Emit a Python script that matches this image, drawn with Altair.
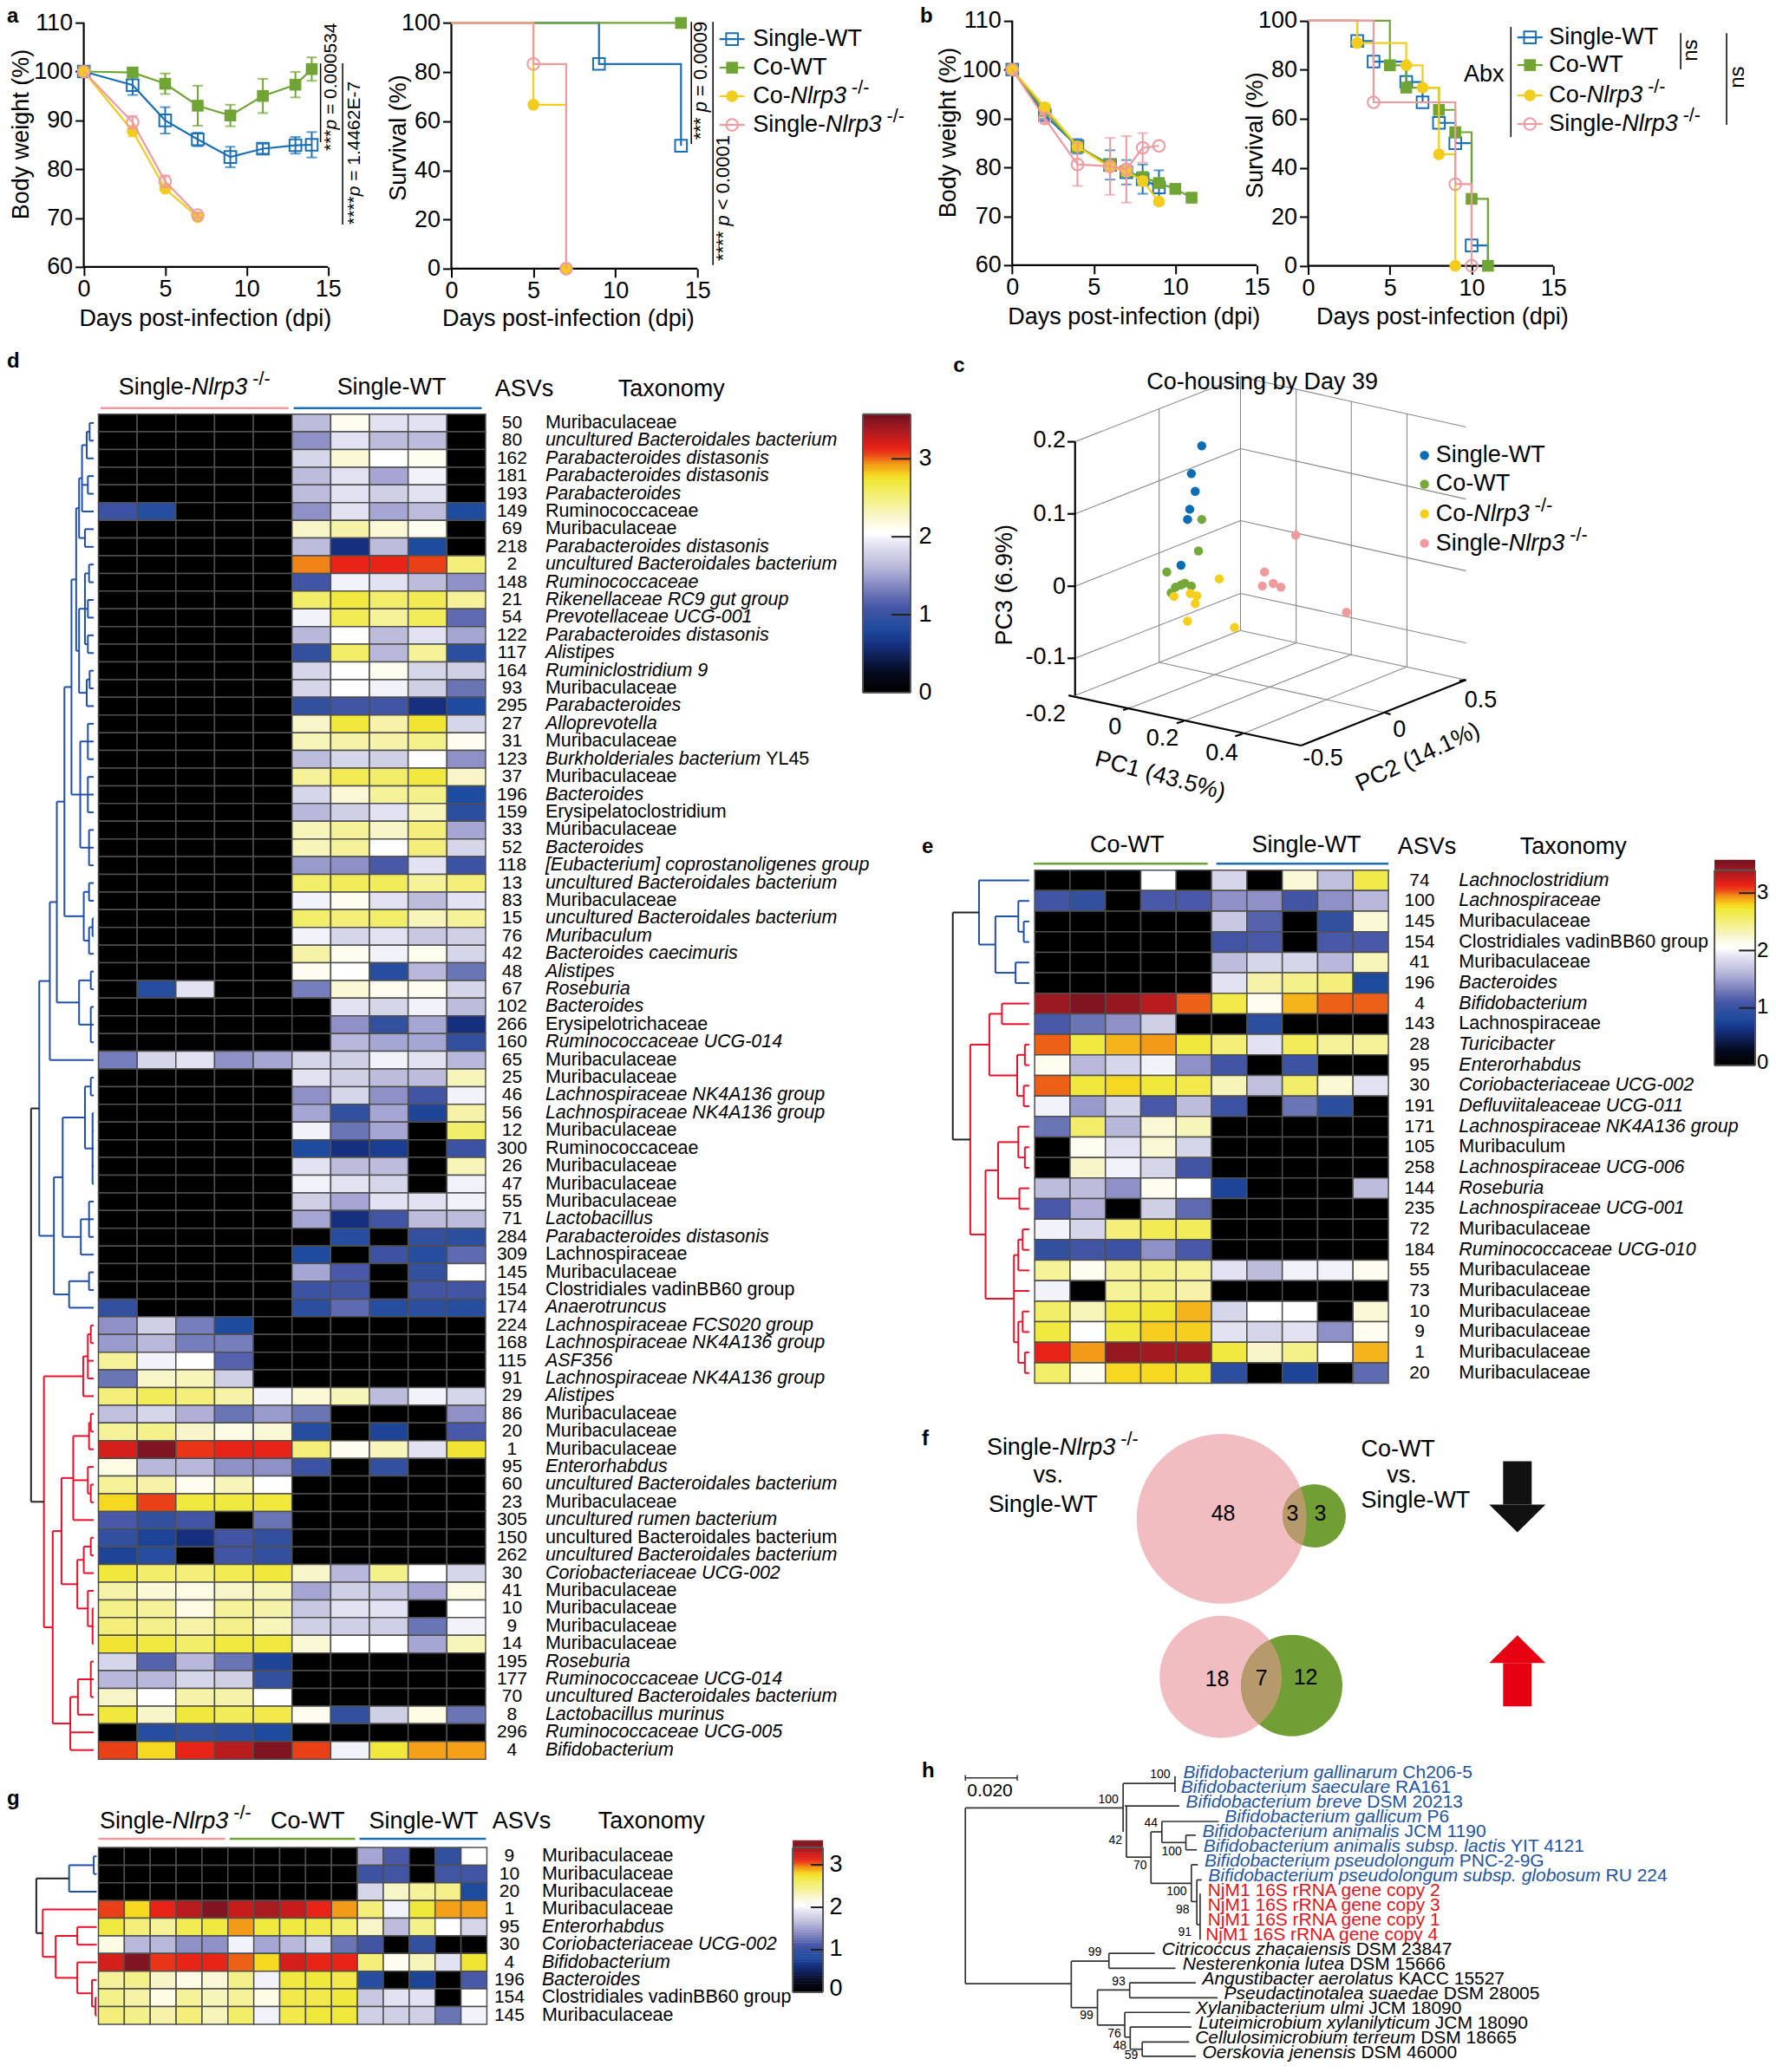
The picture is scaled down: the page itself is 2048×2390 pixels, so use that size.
import altair as alt
import numpy as np
import pandas as pd

FONT = "Liberation Sans"
BLUE, GREEN, YELLOW, PINK = "#1a6fb5", "#70a535", "#f2cd1e", "#ee9a9f"
DBLUE, DRED = "#1f4fa8", "#e8102a"
BOTTOM = 2376
RIGHT = 2040

AFM = [278,278,355,556,556,889,667,191,333,333,389,584,278,333,278,278,556,556,556,556,556,556,556,556,556,556,
       278,278,584,584,584,556,1015,667,667,722,722,667,611,778,722,278,500,667,556,833,722,778,667,778,722,667,
       611,722,667,944,667,667,611,278,278,278,469,556,333,556,556,500,556,556,278,556,556,222,222,500,222,833,
       556,556,556,556,333,500,278,556,500,722,500,500,500,334,260,334,584]


def tw(s, size):
    return sum(AFM[ord(c) - 32] if 32 <= ord(c) < 127 else 556 for c in s) * size / 1000


STOPS = [0, .25, .6, .8, .95, 1.1, 1.25, 1.4, 1.5, 1.62, 1.75, 1.88, 1.96, 2.02, 2.1, 2.25, 2.4, 2.55, 2.7, 2.78,
         2.85, 2.92, 3.0, 3.05, 3.12, 3.25, 3.35, 3.5, 3.57]
COLS = ['#000000', '#060a20', '#16307f', '#1f4b9e', '#33509f', '#4a58a8', '#6a75b5', '#8f90c6', '#a5a6d3', '#bcbcdc',
        '#cfcfe6', '#e2e2f2', '#f2f2fb', '#ffffff', '#fefdf0', '#f8f6c8', '#f5f29a', '#f3ee6a', '#f0e83a', '#f6d820',
        '#f5b41c', '#f39a18', '#ec6018', '#ea4018', '#e82418', '#c81c1c', '#a81c20', '#801420', '#701018']
HS = alt.Scale(domain=STOPS, range=COLS, interpolate="rgb")


class P:
    def __init__(self, L, T, R, B, xm=(0, 0, 1, 1), ym=(0, 0, 1, 1)):
        self.L, self.T, self.R, self.B, self.xm, self.ym = L, T, R, B, xm, ym
        self.sx = alt.Scale(domain=[self.dx(L), self.dx(R)], nice=False, zero=False)
        self.sy = alt.Scale(domain=[self.dy(B), self.dy(T)], nice=False, zero=False)
        self.layers, self.under, self.over, self.texts = [], [], [], []
        self.xaxis = None
        self.yaxis = None

    def dx(self, p):
        a, b, c, d = self.xm
        return a + (p - b) * (c - a) / (d - b)

    def dy(self, p):
        a, b, c, d = self.ym
        return a + (p - b) * (c - a) / (d - b)

    def X(self, f="x"):
        if self.xaxis is not None:
            return alt.X(f, type="quantitative", scale=self.sx)
        return alt.X(f, type="quantitative", scale=self.sx, axis=None)

    def Y(self, f="y"):
        if self.yaxis is not None:
            return alt.Y(f, type="quantitative", scale=self.sy)
        return alt.Y(f, type="quantitative", scale=self.sy, axis=None)

    def seg(self, x1, y1, x2, y2, color="black", w=2, top=False):
        (self.over if top else self.under).append(
            dict(x=self.dx(x1), y=self.dy(y1), x2=self.dx(x2), y2=self.dy(y2), c=color, w=w))

    def t(self, x, y, s, size=21, align="left", angle=0, italic=False, bold=False, color="black"):
        self.texts.append(dict(x=self.dx(x), y=self.dy(y), t=s, size=size, align=align, angle=angle,
                               italic=italic, bold=bold, color=color))

    def rich(self, x, y, parts, size=27, align="left", angle=0, color="black"):
        total = 0
        for s, st in parts:
            total += tw(s, size * (.8 if st == "s" else 1))
        off = {"left": 0, "center": -total / 2, "right": -total}[align]
        for s, st in parts:
            sz = size * (.8 if st == "s" else 1)
            up = size * .33 if st == "s" else 0
            lead = len(s) - len(s.lstrip())
            off += tw(" " * lead, sz)
            body = s.strip()
            if angle == 270:
                self.t(x, y - off, body, sz, "left", 270, st == "i", False, color)
            else:
                self.t(x + off, y - up, body, sz, "left", 0, st == "i", False, color)
            off += tw(s.lstrip(), sz)

    def axes(self, xv, yv, x0, y0, x1, y1):
        common = dict(domain=False, grid=False, tickSize=10, tickWidth=2, tickColor="black", labelFontSize=27,
                      labelFont=FONT, labelColor="black", labelPadding=3, title=None, format="d",
                      labelOverlap=False, labelFlush=False)
        self.xaxis = alt.Axis(values=xv, offset=-(self.B - y0), **common)
        self.yaxis = alt.Axis(values=yv, offset=-(x0 - self.L), **common)
        self.seg(x0, y0, x1, y0, "black", 2.2)
        self.seg(x0, y0, x0, y1, "black", 2.2)

    def points(self, xs, ys, shape, filled, color, size=185, sw=2, px=False):
        if px:
            xs = [self.dx(v) for v in xs]
            ys = [self.dy(v) for v in ys]
        self.layers.append(alt.Chart(pd.DataFrame({"x": xs, "y": ys})).mark_point(
            shape=shape, filled=filled, size=size, color=color, opacity=1, strokeWidth=sw
        ).encode(x=self.X(), y=self.Y()))

    def line(self, xs, ys, color, w=2.2):
        df = pd.DataFrame({"x": xs, "y": ys, "o": range(len(xs))})
        self.layers.append(alt.Chart(df).mark_line(color=color, strokeWidth=w).encode(
            x=self.X(), y=self.Y(), order=alt.Order("o:Q")))

    def errs(self, xs, ys, es, color):
        df = pd.DataFrame({"x": xs, "lo": np.array(ys) - np.array(es), "hi": np.array(ys) + np.array(es)})
        df = df[np.array(es) > 0]
        self.layers.append(alt.Chart(df).mark_rule(color=color, strokeWidth=2).encode(
            x=self.X(), y=self.Y("lo"), y2=alt.Y2("hi")))
        for f in ("lo", "hi"):
            self.layers.append(alt.Chart(df).mark_tick(orient="horizontal", size=12, thickness=2, color=color).encode(
                x=self.X(), y=self.Y(f)))

    def heat(self, M):
        rec = []
        for r, row in enumerate(M):
            for c, v in enumerate(row):
                rec.append(dict(c=c, c1=c + 1, r=r, r1=r + 1, v=v))
        self.layers.append(alt.Chart(pd.DataFrame(rec)).mark_rect(stroke="#4f4f4f", strokeWidth=1.5).encode(
            x=self.X("c"), x2=alt.X2("c1"), y=self.Y("r"), y2=alt.Y2("r1"),
            color=alt.Color("v:Q", scale=HS, legend=None)))

    def colorbar(self, x1, x2, y0, y3, top, tick_frac=.4):
        levels = list(np.arange(0, 3.57, .03))
        per = (y3 - y0) / 3
        df = pd.DataFrame({"v": levels,
                           "x": self.dx(x1), "x2": self.dx(x2),
                           "y": [self.dy(y0 + per * v) for v in levels],
                           "y2": [self.dy(y0 + per * (v + .04)) for v in levels]})
        self.layers.append(alt.Chart(df).mark_rect(strokeWidth=0).encode(
            x=self.X(), x2=alt.X2("x2"), y=self.Y(), y2=alt.Y2("y2"),
            color=alt.Color("v:Q", scale=HS, legend=None)))
        for a, b, c, d in [(x1, top, x2, top), (x2, top, x2, y0), (x2, y0, x1, y0), (x1, y0, x1, top)]:
            self.seg(a, b, c, d, "#555555", 2, True)
        for v in (1, 2, 3):
            yy = y0 + per * v
            self.seg(x2 - (x2 - x1) * tick_frac, yy, x2, yy, "#222222", 2, True)

    def _segl(self, segs):
        out = []
        if not segs:
            return out
        df = pd.DataFrame(segs)
        for (c, w), g in df.groupby(["c", "w"], sort=False):
            out.append(alt.Chart(g[["x", "y", "x2", "y2"]]).mark_rule(color=c, strokeWidth=w).encode(
                x=self.X(), y=self.Y(), x2=alt.X2("x2"), y2=alt.Y2("y2")))
        return out

    def finish(self):
        bx = alt.X("x", type="quantitative", scale=self.sx, axis=self.xaxis)
        by = alt.Y("y", type="quantitative", scale=self.sy, axis=self.yaxis)
        base = alt.Chart(pd.DataFrame({"x": [self.dx((self.L + self.R) / 2)], "y": [self.dy((self.T + self.B) / 2)]})
                         ).mark_point(opacity=0).encode(x=bx, y=by)
        txt = []
        if self.texts:
            df = pd.DataFrame(self.texts)
            for k, g in df.groupby(["size", "align", "angle", "italic", "bold", "color"], sort=False):
                txt.append(alt.Chart(g[["x", "y", "t"]]).mark_text(
                    font=FONT, fontSize=float(k[0]), align=k[1], baseline="middle", angle=float(k[2]),
                    fontStyle="italic" if k[3] else "normal", fontWeight="bold" if k[4] else "normal", color=k[5]
                ).encode(x=self.X(), y=self.Y(), text=alt.Text("t:N")))
        return alt.layer(base, *self._segl(self.under), *self.layers, *self._segl(self.over), *txt).properties(
            width=self.R - self.L, height=self.B - self.T)


STYLE = {"wt": (BLUE, "square", False), "co": (GREEN, "square", True),
         "ko": (YELLOW, "circle", True), "sk": (PINK, "circle", False)}
NL = [("Nlrp3", "i"), (" -/-", "s")]
LEG = [("wt", [("Single-WT", "")]), ("co", [("Co-WT", "")]), ("ko", [("Co-", "")] + NL),
       ("sk", [("Single-", "")] + NL)]


def legend(p, xm, xt, ys, half=14.5):
    for (k, parts), y in zip(LEG, ys):
        col, sh, fl = STYLE[k]
        p.seg(xm - half, y, xm + half, y, col, 2.2)
        p.points([xm], [y], sh, fl, col, 185, 2, px=True)
        p.rich(xt, y, parts, 27)


def weight_series(p, days, vals, errs, k):
    col, sh, fl = STYLE[k]
    p.errs(days, vals, errs, col)
    p.line(days, vals, col)
    p.points(days, vals, sh, fl, col)


def surv_series(p, xs, ys, mx, my, k):
    col, sh, fl = STYLE[k]
    p.line(xs, ys, col)
    p.points(mx, my, sh, fl, col)


# ---- panel a data
a_wt_d = [0, 3, 5, 7, 9, 11, 13, 14]
a_wt_v = [100, 97.2, 90, 86.1, 82.5, 84.2, 84.9, 85]
a_wt_e = [0, 2, 2.7, 1.4, 2.1, 1, 1.7, 2.6]
a_co_d = [0, 3, 5, 7, 9, 11, 13, 14]
a_co_v = [100, 99.8, 97.5, 93, 91, 95, 97.3, 100.5]
a_co_e = [0, .5, 2.1, 4.1, 2.2, 3.5, 2.6, 2.4]
a_ko_d = [0, 3, 5, 7]
a_ko_v = [100, 87.8, 76, 70.2]
a_ko_e = [0, 1.1, .5, .5]
a_sk_d = [0, 3, 5, 7]
a_sk_v = [100, 89.6, 77.5, 70.6]
a_sk_e = [0, 1.3, 1.2, .5]

A1 = P(8, 8, 465, 400, (0, 96.7, 15, 378.6), (60, 307, 110, 25))
A1.axes([0, 5, 10, 15], [60, 70, 80, 90, 100, 110], 96.7, 307, 378.6, 25)
weight_series(A1, a_wt_d, a_wt_v, a_wt_e, "wt")
weight_series(A1, a_co_d, a_co_v, a_co_e, "co")
weight_series(A1, a_ko_d, a_ko_v, a_ko_e, "ko")
weight_series(A1, a_sk_d, a_sk_v, a_sk_e, "sk")
A1.t(8, 18, "a", 24, bold=True)
A1.t(25, 154, "Body weight (%)", 27, "center", 270)
A1.t(237, 367, "Days post-infection (dpi)", 27, "center")
A1.seg(370, 72, 370, 163, "black", 1.5)
A1.seg(395.5, 72, 395.5, 258, "black", 1.5)
A1.rich(382, 173, [("***", ""), ("p", "i"), (" = 0.000534", "")], 21, angle=270)
A1.rich(409, 258, [("****", ""), ("p", "i"), (" = 1.4462E-7", "")], 21, angle=270)

A2 = P(465, 8, 1060, 400, (0, 521, 15, 805), (0, 309, 100, 25.3))
A2.axes([0, 5, 10, 15], [0, 20, 40, 60, 80, 100], 521, 309, 805, 25.3)
surv_series(A2, [0, 9, 9, 14, 14], [100, 100, 83.3, 83.3, 50], [9, 14], [83.3, 50], "wt")
surv_series(A2, [0, 14], [100, 100], [14], [100], "co")
surv_series(A2, [0, 5, 5, 7, 7], [100, 100, 66.7, 66.7, 0], [5, 7], [66.7, 0], "ko")
surv_series(A2, [0, 5, 5, 7, 7], [100, 100, 83.3, 83.3, 0], [5, 7], [83.3, 0], "sk")
A2.t(460, 158, "Survival (%)", 27, "center", 270)
A2.t(656, 367, "Days post-infection (dpi)", 27, "center")
legend(A2, 845, 869, [44, 77, 110, 143])
A2.seg(798, 24, 798, 165, "black", 1.5)
A2.seg(823, 24, 823, 305, "black", 1.5)
A2.rich(809, 160, [("*** ", ""), ("p", "i"), (" = 0.0009", "")], 22, angle=270)
A2.rich(835, 300, [("**** ", ""), ("p", "i"), (" < 0.0001", "")], 22, angle=270)

# ---- panel b data
b_wt_d = [0, 2, 4, 6, 7, 8, 9]
b_wt_v = [100, 90.7, 84.3, 80.5, 79, 77.6, 75.9]
b_wt_e = [0, .8, 1.5, 3, 2.5, 3, 3.5]
b_co_d = [0, 2, 4, 6, 7, 8, 9, 10, 11]
b_co_v = [100, 91.5, 84.2, 80.6, 79.2, 78, 76.8, 75.6, 73.8]
b_co_e = [0, .6, 1, 1, 1, 1, .8, 0, 0]
b_ko_d = [0, 2, 4, 6, 7, 8, 9]
b_ko_v = [100, 92.3, 84.3, 80, 79.2, 77.2, 73]
b_ko_e = [0, .6, .8, .8, .8, .8, 0]
b_sk_d = [0, 2, 4, 6, 7, 8, 9]
b_sk_v = [100, 90, 80.6, 80.2, 79.6, 84, 84.4]
b_sk_e = [0, 1, 4.4, 5.8, 6.8, 3, 0]

B1 = P(1060, 8, 1480, 400, (0, 1168.4, 15, 1450.7), (60, 305, 110, 22.7))
B1.axes([0, 5, 10, 15], [60, 70, 80, 90, 100, 110], 1168.4, 305, 1450.7, 22.7)
weight_series(B1, b_wt_d, b_wt_v, b_wt_e, "wt")
weight_series(B1, b_co_d, b_co_v, b_co_e, "co")
weight_series(B1, b_ko_d, b_ko_v, b_ko_e, "ko")
weight_series(B1, b_sk_d, b_sk_v, b_sk_e, "sk")
B1.t(1062, 18, "b", 24, bold=True)
B1.t(1095, 152, "Body weight (%)", 27, "center", 270)
B1.t(1309, 365, "Days post-infection (dpi)", 27, "center")

B2 = P(1480, 8, RIGHT, 400, (0, 1510, 15, 1793), (0, 305.7, 100, 22.7))
B2.axes([0, 5, 10, 15], [0, 20, 40, 60, 80, 100], 1510, 305.7, 1793, 22.7)
surv_series(B2, [0, 3, 3, 4, 4, 6, 6, 7, 7, 8, 8, 9, 9, 10, 10, 11, 11],
            [100, 100, 91.7, 91.7, 83.3, 83.3, 75, 75, 66.7, 66.7, 58.3, 58.3, 50, 50, 8.3, 8.3, 0],
            [3, 4, 6, 7, 8, 9, 10], [91.7, 83.3, 75, 66.7, 58.3, 50, 8.3], "wt")
surv_series(B2, [0, 5, 5, 6, 6, 8, 8, 9, 9, 10, 10, 11, 11],
            [100, 100, 81.8, 81.8, 72.7, 72.7, 63.6, 63.6, 54.5, 54.5, 27.3, 27.3, 0],
            [5, 6, 8, 9, 10, 11], [81.8, 72.7, 63.6, 54.5, 27.3, 0], "co")
surv_series(B2, [0, 3, 3, 6, 6, 7, 7, 8, 8, 9, 9], [100, 100, 90.9, 90.9, 81.8, 81.8, 72.7, 72.7, 45.5, 45.5, 0],
            [3, 6, 7, 8, 9], [90.9, 81.8, 72.7, 45.5, 0], "ko")
surv_series(B2, [0, 4, 4, 9, 9, 10, 10], [100, 100, 66.7, 66.7, 33.3, 33.3, 0], [4, 9, 10], [66.7, 33.3, 0], "sk")
B2.t(1449, 155, "Survival (%)", 27, "center", 270)
B2.t(1665, 365, "Days post-infection (dpi)", 27, "center")
legend(B2, 1766, 1788, [42, 74, 109, 142])
B2.t(1713, 85, "Abx", 27, "center")
B2.seg(1744, 30, 1744, 157, "black", 1.5)
B2.seg(1940, 37, 1940, 79, "black", 1.5)
B2.seg(1993, 37, 1993, 143, "black", 1.5)
B2.t(1952, 57, "ns", 24, "center", 270)
B2.t(2006, 88, "ns", 24, "center", 270)


# ---- dendrograms
def N(x, *k):
    return (x, k)


def draw(p, tree, row, conv, leaf_x, color, w=2):
    x, kids = tree
    ys = []
    for k in kids:
        if isinstance(k, int):
            ky = row(k)
            kx = leaf_x
        else:
            kx = k[0]
            ky = draw(p, k, row, conv, leaf_x, color, w)
        p.seg(conv(x), ky, conv(kx), ky, color, w)
        ys.append(ky)
    p.seg(conv(x), ys[0], conv(x), ys[-1], color, w)
    return (ys[0] + ys[-1]) / 2


def root(p, x, top, bot, row, conv, leaf_x):
    yt = draw(p, top, row, conv, leaf_x, DBLUE)
    yb = draw(p, bot, row, conv, leaf_x, DRED)
    p.seg(conv(x), yt, conv(top[0]), yt, "#222222", 2)
    p.seg(conv(x), yb, conv(bot[0]), yb, "#222222", 2)
    p.seg(conv(x), yt, conv(x), yb, "#222222", 2)


def tax(p, x, y, name, size=21.5):
    if name.startswith("~"):
        p.t(x, y, name[1:], size)
    elif "|" in name:
        a, b = name.split("|")
        p.rich(x, y, [(a, "i"), (b, "")], size)
    else:
        p.t(x, y, name, size, italic=True)


# ---- panel d data
Z = [0, 0, 0, 0, 0]
d_asv = [50, 80, 162, 181, 193, 149, 69, 218, 2, 148, 21, 54, 122, 117, 164, 93, 295, 27, 31, 123, 37, 196, 159, 33, 52,
         118, 13, 83, 15, 76, 42, 48, 67, 102, 266, 160, 65, 25, 46, 56, 12, 300, 26, 47, 55, 71, 284, 309, 145, 154,
         174, 224, 168, 115, 91, 29, 86, 20, 1, 95, 60, 23, 305, 150, 262, 30, 41, 10, 9, 14, 195, 177, 70, 8, 296, 4]
MU = "~Muribaculaceae"
UB = "uncultured Bacteroidales bacterium"
PD = "Parabacteroides distasonis"
NK = "Lachnospiraceae NK4A136 group"
d_tax = [MU, UB, PD, PD, "Parabacteroides", "~Ruminococcaceae", MU, PD, UB, "Ruminococcaceae",
         "Rikenellaceae RC9 gut group", "Prevotellaceae UCG-001", PD, "Alistipes", "Ruminiclostridium 9", MU,
         "Parabacteroides", "Alloprevotella", MU, "Burkholderiales bacterium| YL45", MU, "Bacteroides",
         "~Erysipelatoclostridium", MU, "Bacteroides", "[Eubacterium] coprostanoligenes group", UB, MU, UB,
         "Muribaculum", "Bacteroides caecimuris", "Alistipes", "Roseburia", "Bacteroides", "~Erysipelotrichaceae",
         "Ruminococcaceae UCG-014", MU, MU, NK, NK, MU, "~Ruminococcaceae", MU, MU, MU, "Lactobacillus", PD,
         "~Lachnospiraceae", MU, "~Clostridiales vadinBB60 group", "Anaerotruncus", "Lachnospiraceae FCS020 group", NK,
         "ASF356", NK, "Alistipes", MU, MU, MU, "Enterorhabdus", UB, MU, "uncultured rumen bacterium",
         "~uncultured Bacteroidales bacterium", UB, "Coriobacteriaceae UCG-002", MU, MU, MU, MU, "Roseburia",
         "Ruminococcaceae UCG-014", UB, "Lactobacillus murinus", "Ruminococcaceae UCG-005", "Bifidobacterium"]
d_vals = [
    Z + [1.62, 2.1, 1.88, 1.88, 0], Z + [1.4, 1.88, 1.62, 1.62, 0], Z + [1.8, 2.2, 2.02, 2.1, 0],
    Z + [1.62, 1.88, 1.5, 1.96, 0], Z + [1.62, 1.88, 1.75, 1.88, 0],
    [1.0, .85, 0, 0, 0, 1.4, 1.88, 1.5, 1.62, .8], Z + [2.25, 2.35, 2.2, 2.1, 0], Z + [1.62, .6, 1.62, .8, 0],
    Z + [2.95, 3.12, 3.12, 3.05, 2.5], Z + [1.05, 1.96, 1.88, 1.62, 1.4], Z + [2.55, 2.68, 2.55, 2.62, 2.4],
    Z + [1.96, 2.62, 2.4, 2.6, 1.2], Z + [1.6, 2.02, 1.62, 1.88, 1.5], Z + [.95, 2.55, 1.6, 2.4, .9],
    Z + [1.8, 2.02, 2.1, 1.8, 1.75], Z + [1.8, 2.02, 1.96, 1.75, 1.25], Z + [.95, 1.05, 1.05, .6, .8],
    Z + [2.25, 2.7, 2.35, 2.72, 1.8], Z + [2.3, 2.35, 2.35, 2.45, 2.1], Z + [1.62, 1.8, 1.75, 2.02, 1.4],
    Z + [2.4, 2.62, 2.55, 2.68, 2.25], Z + [1.8, 2.2, 2.4, 2.45, .8], Z + [1.6, 1.75, 1.88, 2.3, .9],
    Z + [2.3, 2.4, 2.25, 2.5, 1.5], Z + [2.3, 2.4, 2.02, 2.5, 1.8], Z + [1.45, 1.4, 1.1, 1.88, 1.0],
    Z + [2.55, 2.6, 2.6, 2.4, 2.5], Z + [1.96, 2.1, 1.88, 1.62, 1.88], Z + [2.55, 2.5, 2.55, 2.3, 2.4],
    Z + [1.96, 1.8, 1.88, 1.7, 1.75], Z + [2.35, 2.1, 1.96, 2.1, 1.8], Z + [2.1, 2.02, .85, 1.6, 1.25],
    [0, .85, 1.88, 0, 0, 1.3, 2.2, 2.1, 2.1, 1.8], Z + [0, 1.88, 1.8, 1.96, 1.62], Z + [0, 1.4, .95, 1.5, .6],
    Z + [0, 1.6, 1.5, 1.5, .95], [1.3, 1.8, 1.88, 1.4, 1.5, 1.8, 1.75, 1.96, 1.88, 1.6],
    Z + [1.88, 1.75, 1.62, 1.62, 2.3], Z + [1.4, 1.8, 1.4, 1.05, 1.96], Z + [1.5, .95, 1.5, .75, 2.35],
    Z + [1.96, 1.25, 1.5, 0, 2.55], Z + [.8, .6, .7, 0, 1.0], Z + [1.88, 1.62, 1.62, 0, 2.3],
    Z + [1.96, 1.88, 1.8, 0, 1.96], Z + [1.75, 1.5, 1.88, 1.88, 1.96], Z + [1.5, .6, 1.05, 1.62, 1.62],
    Z + [0, .85, 0, .95, .9], Z + [.8, 0, 1.0, .85, 1.2], Z + [1.5, 1.1, 0, .95, 2.02], Z + [1.0, 1.05, 0, 1.05, 1.05],
    [.95, 0, 0, 0, 0, .9, 1.2, .85, .9, .85],
    [1.4, 1.75, 1.3, .8, 0] + Z, [1.45, 1.6, 1.3, 1.3, 0] + Z, [2.4, 1.96, 2.02, 1.15, 0] + Z,
    [1.25, 2.25, 2.3, 1.75, 0] + Z, [2.5, 2.6, 2.5, 2.35, 1.96, 2.2, 2.3, 1.62, 1.96, 1.8],
    [1.65, 1.8, 1.55, 1.25, 1.45, 1.25, 0, 0, 0, 1.4], [2.4, 2.45, 2.25, 2.15, 2.2, .85, 0, .75, 0, 1.1],
    [3.2, 3.5, 3.08, 3.12, 3.12, 2.5, 2.1, 2.3, 1.88, 2.72], [2.15, 1.6, 1.6, 1.4, 1.4, 1.0, 0, .95, 0, 0],
    [2.4, 2.35, 2.1, 2.3, 2.02] + Z, [2.78, 3.05, 2.68, 2.68, 2.7] + Z, [1.1, .95, 1.05, 0, 1.25] + Z,
    [.95, .75, .6, 1.05, .95] + Z, [.75, .85, 0, 1.05, .95] + Z,
    [2.7, 2.55, 2.5, 2.62, 2.7, 2.25, 1.6, 2.45, 2.02, 1.8], [2.35, 2.2, 2.15, 2.25, 2.3, 1.5, 1.75, 1.7, 1.5, 2.15],
    [2.45, 2.4, 2.15, 2.4, 2.35, 1.7, 1.88, 1.88, 0, 2.02], [2.5, 2.45, 2.35, 2.45, 2.3, 1.75, 1.75, 1.75, 1.25, 1.96],
    [2.72, 2.68, 2.55, 2.68, 2.68, 2.2, 2.02, 2.02, 1.5, 2.3], [1.8, 1.15, 1.6, 1.25, .75] + Z,
    [1.6, 1.6, 1.8, 1.75, .95] + Z, [2.25, 2.02, 2.35, 2.35, 2.02] + Z,
    [2.7, 2.25, 2.7, 2.6, 2.65, 2.1, .95, 1.75, 2.15, 1.25], [0, .85, .95, .9, .8] + Z,
    [3.05, 2.78, 3.12, 3.3, 3.5, 3.05, 1.96, 2.7, 2.9, 2.9]]

D = P(8, 400, 1060, 2060, (0, 113.6, 10, 560.5), (0, 477, 76, 2030))
D.heat(d_vals)
D.colorbar(996, 1051, 798.5, 528.6, 477)
rd = lambda r: 477 + (r + .5) * 20.43
for i, (a, n) in enumerate(zip(d_asv, d_tax)):
    D.t(591, rd(i), str(a), 21, "center")
    tax(D, 629.5, rd(i), n)
D.t(8, 416, "d", 24, bold=True)
D.rich(137, 446, [("Single-", "")] + NL, 27)
D.t(452, 446, "Single-WT", 27, "center")
D.t(605, 448, "ASVs", 27, "center")
D.t(775, 448, "Taxonomy", 27, "center")
D.seg(116, 470, 333, 470, PINK, 2.5)
D.seg(339, 470, 556, 470, BLUE, 2.5)
cd = lambda z: z / 1.479
C1 = N(135, N(140, N(148, N(153, 0, 1), 2), N(150, 3, 4), 5), N(145, 6, 7))
C2 = N(135, N(145, N(152, 8, 9), N(150, 10, 11), N(150, 12, 13)), N(148, N(153, 14, 15), 16))
G2 = N(137, N(150, 17, 18, 19), N(150, 20, 21, 22), N(152, 23, 24, 25))
G3 = N(143, N(152, 26, 27), N(152, N(158, 28, 29), 30))
T0 = N(110, N(122, N(130, C1, C2), G2), G3)
A_ = N(85, N(97, T0, N(135, N(155, 31, 32), N(155, 33, 34, 35))), 36)
B_ = N(92, N(107, N(145, N(155, 37, 38), N(158, 39, 40, 41, 42, 43)), N(138, N(152, 44, 45, 46), 47)),
       N(118, N(152, 48, 49), 50))
d_blue = N(67, A_, B_)
d_red = N(75, N(142, N(150, N(155, 51, 52), 53, 54), 55),
          N(90, N(105, N(125, N(152, N(155, 56, 57), 58), N(150, 59, N(155, 60, 61)), 62),
                  N(132, N(143, N(155, 63, 64), 65), N(150, 66, N(158, 67, 68, 69)))),
            N(120, N(133, N(155, 70, 71, 72), 73), 74, 75)))
root(D, 53, d_blue, d_red, rd, cd, 160)

# ---- panel g data
g_asv = [9, 10, 20, 1, 95, 30, 4, 196, 154, 145]
g_tax = [MU, MU, MU, MU, "Enterorhabdus", "Coriobacteriaceae UCG-002", "Bifidobacterium", "Bacteroides",
         "~Clostridiales vadinBB60 group", MU]
Z10 = [0] * 10
g_vals = [Z10 + [1.5, 1.1, 0, .95, 2.02], Z10 + [1.0, 1.05, 0, 1.05, 1.05], Z10 + [1.8, 2.25, 2.4, 2.45, .8],
          [3.05, 2.78, 3.12, 3.3, 3.5, 3.25, 3.35, 3.25, 3.12, 2.92, 2.5, 1.96, 2.7, 2.9, 2.9],
          [2.68, 2.5, 2.4, 2.62, 2.68, 2.92, 2.68, 2.68, 2.65, 2.55, 2.25, 1.62, 2.45, 2.02, 1.8],
          [2.15, 1.6, 1.6, 1.4, 1.4, 1.96, 1.5, 1.6, 1.8, 1.25, 1.05, 0, .95, 0, 0],
          [3.2, 3.5, 3.08, 3.12, 3.12, 3.0, 2.78, 3.2, 3.12, 3.12, 2.5, 2.1, 2.3, 1.88, 2.72],
          [2.4, 2.45, 2.25, 2.15, 2.2, 2.45, 1.96, 2.68, 2.7, 2.65, .85, 0, .75, 0, 1.1],
          [2.45, 2.35, 2.15, 2.4, 2.3, 2.4, 2.15, 2.65, 2.65, 2.7, 1.7, 1.88, 1.88, 0, 2.02],
          [2.5, 2.45, 2.35, 2.5, 2.3, 2.55, 1.96, 2.65, 2.7, 2.7, 1.75, 1.75, 1.75, 1.25, 1.96]]
G = P(8, 2060, 1060, BOTTOM, (0, 113.6, 15, 562), (0, 2132, 10, 2336))
G.heat(g_vals)
G.colorbar(915, 950, 2299, 2152, 2132)
rg = lambda r: 2132 + (r + .5) * 20.4
for i, (a, n) in enumerate(zip(g_asv, g_tax)):
    G.t(588, rg(i), str(a), 21, "center")
    tax(G, 625.5, rg(i), n)
for v, yy in zip("3210", [2152, 2201, 2249, 2295]):
    G.t(965, yy, v, 27, "center")
G.t(8, 2076, "g", 24, bold=True)
G.rich(115, 2102, [("Single-", "")] + NL, 27)
G.t(355, 2102, "Co-WT", 27, "center")
G.t(489, 2102, "Single-WT", 27, "center")
G.t(602, 2102, "ASVs", 27, "center")
G.t(752, 2102, "Taxonomy", 27, "center")
G.seg(113.6, 2122, 260, 2122, PINK, 2.5)
G.seg(265, 2122, 410, 2122, GREEN, 2.5)
G.seg(415, 2122, 561, 2122, BLUE, 2.5)
root(G, 62, N(118, N(160, 0, 1), 2),
     N(73, 3, N(95, N(132, 4, 5), N(132, 6, N(157, 7, N(163, 8, 9))))), rg, cd, 165)

# ---- panel e data
e_asv = [74, 100, 145, 154, 41, 196, 4, 143, 28, 95, 30, 191, 171, 105, 258, 144, 235, 72, 184, 55, 73, 10, 9, 1, 20]
e_tax = ["Lachnoclostridium", "Lachnospiraceae", MU, "~Clostridiales vadinBB60 group", MU, "Bacteroides",
         "Bifidobacterium", "~Lachnospiraceae", "Turicibacter", "Enterorhabdus", "Coriobacteriaceae UCG-002",
         "Defluviitaleaceae UCG-011", NK, "~Muribaculum", "Lachnospiraceae UCG-006", "Roseburia",
         "Lachnospiraceae UCG-001", MU, "Ruminococcaceae UCG-010", MU, MU, MU, MU, MU, MU]
e_vals = [
    [0, 0, 0, 2.02, 0, 1.8, 0, 2.2, 1.65, 2.65], [1.05, .95, 0, 1.1, 1.1, 1.4, 1.4, 1.05, 1.4, 1.6],
    Z + [1.7, 1.15, 0, .95, 2.2], Z + [1.05, 1.1, 0, 1.1, 1.1], Z + [1.62, 1.8, 1.8, 1.6, 2.3],
    Z + [1.88, 2.35, 2.45, 2.5, .8], [3.4, 3.5, 3.42, 3.3, 3.0, 2.65, 2.1, 2.85, 3.0, 3.0],
    [1.1, 1.25, 1.4, 1.75, 0, 0, .9, 0, 0, 0], [3.0, 2.68, 2.85, 2.92, 2.7, 2.5, 1.88, 2.6, 2.4, 2.4],
    [2.1, 1.6, 1.8, 1.96, 1.4, 1.05, 0, 1.0, 0, 0], [3.0, 2.7, 2.78, 2.7, 2.65, 2.3, 1.65, 2.55, 2.2, 1.88],
    [1.96, 1.45, 1.8, 1.1, 1.62, 1.0, 0, 1.25, .9, 0], [1.25, 2.55, 1.6, 2.2, 2.3] + Z, [0, 2.1, 1.88, 2.2, 1.8] + Z,
    [0, 2.25, 1.96, 1.8, 1.05] + Z, [1.62, 1.62, 1.4, 2.1, 2.02, .75, 0, 0, 0, 1.62], [1.1, 1.55, 0, 1.75, 1.2] + Z,
    [1.96, 1.8, 2.5, 2.62, 2.6] + Z, [.95, 1.05, 1.0, 1.4, 1.1] + Z,
    [2.4, 2.1, 2.4, 2.45, 2.4, 1.88, 1.62, 1.96, 1.96, 2.1], [1.96, 0, 2.4, 2.45, 2.35] + Z,
    [2.55, 2.3, 2.68, 2.72, 2.85, 1.8, 2.02, 2.02, 0, 2.2], [2.68, 2.02, 2.68, 2.8, 2.8, 1.88, 1.8, 1.88, 1.4, 2.1],
    [3.12, 2.92, 3.42, 3.38, 3.38, 2.68, 2.25, 2.45, 2.02, 2.85], [2.55, 2.1, 2.78, 2.78, 2.72, .9, 0, .75, 0, 1.2]]
E = P(1060, 950, RIGHT, 1630, (0, 1192.3, 10, 1600.6), (0, 1003.5, 25, 1596))
E.heat(e_vals)
E.colorbar(1977, 2024, 1229, 1030, 1003.5)
re_ = lambda r: 1003.5 + (r + .5) * 23.7
for i, (a, n) in enumerate(zip(e_asv, e_tax)):
    E.t(1636.6, re_(i), str(a), 21, "center")
    tax(E, 1682, re_(i), n)
for v, yy in zip("3210", [1030, 1097, 1162, 1226]):
    E.t(2026, yy, v, 24)
E.t(1062, 977, "e", 24, bold=True)
E.t(1299, 975, "Co-WT", 27, "center")
E.t(1506, 975, "Single-WT", 27, "center")
E.t(1645, 977, "ASVs", 27, "center")
E.t(1814, 977, "Taxonomy", 27, "center")
E.seg(1191, 996, 1392, 996, GREEN, 2.5)
E.seg(1402, 996, 1600.6, 996, BLUE, 2.5)
ce = lambda z: 1060 + z / 1.587
e_blue = N(108, 0, N(138, N(180, 1, N(190, 2, 3)), N(175, 4, 5)))
e_red = N(92, N(127, N(150, 6, 7), N(178, N(192, 8, 9), N(190, 10, 11))),
          N(120, N(143, N(180, 12, N(192, 13, 14)), N(182, 15, 16)),
            N(172, N(180, N(188, 17, 18), 19), 20, N(180, N(188, 21, 22), N(192, 23, 24)))))
root(E, 60, e_blue, e_red, re_, ce, 200)

# ---- panel c data (read in picture units of the projected 3-D view)
c_blue_x = [516, 497, 504, 494, 490, 478]
c_blue_y = [318, 408, 465, 523, 556, 704]
c_green_x = [516, 510, 452, 485, 497, 468, 460, 478]
c_green_y = [556, 658, 726, 762, 771, 775, 793, 768]
c_yellow_x = [548, 495, 507, 465, 504, 490, 576]
c_yellow_y = [748, 795, 803, 805, 828, 885, 905]
c_pink_x = [688, 631, 647, 627, 661, 781]
c_pink_y = [607, 726, 763, 771, 775, 856]
c_wire = [(284, 305, 587, 95), (284, 538, 587, 327), (284, 772, 587, 560), (284, 1005, 587, 795), (284, 1125, 587, 915),
          (587, 95, 1000, 257), (587, 327, 1000, 490), (587, 560, 1000, 722), (587, 795, 1000, 955),
          (587, 915, 1000, 1075), (438, 197, 438, 1018), (587, 95, 587, 915), (689, 135, 689, 955),
          (790, 173, 790, 993), (892, 213, 892, 1032), (385, 1165, 689, 955), (483, 1208, 790, 993),
          (590, 1250, 892, 1032), (438, 1018, 850, 1180)]
c_axes = [(284, 305, 284, 1125), (272, 1125, 698, 1287), (698, 1287, 1000, 1075), (270, 305, 284, 305),
          (270, 538, 284, 538), (270, 772, 284, 772), (270, 1005, 284, 1005), (372, 1172, 385, 1165),
          (470, 1215, 483, 1208), (577, 1257, 590, 1250), (850, 1180, 862, 1186), (988, 1078, 1000, 1075)]
cx = lambda z: 1060 + z / 1.587
cy = lambda z: 400 + z / 2.8
C = P(1060, 400, RIGHT, 950)
for a, b, c_, d_ in c_wire:
    C.seg(cx(a), cy(b), cx(c_), cy(d_), "#888888", 1.1)
for a, b, c_, d_ in c_axes:
    C.seg(cx(a), cy(b), cx(c_), cy(d_), "black", 2.2)
CCOL = {"wt": "#0a6db5", "co": "#74a83a", "ko": "#f5cf1b", "sk": "#f19a9e"}
for k, xs, ys in [("wt", c_blue_x, c_blue_y), ("co", c_green_x, c_green_y), ("ko", c_yellow_x, c_yellow_y),
                  ("sk", c_pink_x, c_pink_y)]:
    C.points([cx(v) for v in xs], [cy(v) for v in ys], "circle", True, CCOL[k], 110, 0, px=True)
for (k, parts), yz in zip(LEG, [349, 442, 538, 633]):
    C.points([cx(924)], [cy(yz)], "circle", True, CCOL[k], 110, 0, px=True)
    C.rich(cx(945), cy(yz), parts, 27)
C.t(1105, 421, "c", 24, "center", bold=True)
C.t(1455, 440, "Co-housing by Day 39", 27, "center")
for s, yz in [("0.2", 300), ("0.1", 540), ("0", 775), ("-0.1", 1002), ("-0.2", 1187)]:
    C.t(cx(267), cy(yz), s, 27, "right")
for s, a, b in [("0", 357, 1228), ("0.2", 444, 1265), ("0.4", 553, 1312), ("-0.5", 738, 1328), ("0", 878, 1238),
                ("0.5", 1027, 1140)]:
    C.t(cx(a), cy(b), s, 27, "center")
C.t(cx(155), cy(768), "PC3 (6.9%)", 27, "center", 270)
C.t(cx(440), cy(1385), "PC1 (43.5%)", 27, "center", 15)
C.t(cx(912), cy(1325), "PC2 (14.1%)", 27, "center", 335)
for s, yy in zip("3210", [528.6, 618.6, 709, 799]):
    C.t(1066, yy, s, 27, "center")

# ---- panel f
F = P(1060, 1630, RIGHT, 2010)


def venn(p, c1, r1, c2, r2):
    p.points([c1[0]], [c1[1]], "circle", True, "#f2bdc1", (2 * r1) ** 2, 0, px=True)
    p.points([c2[0]], [c2[1]], "circle", True, "#729f35", (2 * r2) ** 2, 0, px=True)
    lo = max(c1[0] - r1, c2[0] - r2)
    hi = min(c1[0] + r1, c2[0] + r2)
    xs = np.linspace(lo, hi, 120)
    h1 = np.sqrt(np.maximum(r1 ** 2 - (xs - c1[0]) ** 2, 0))
    h2 = np.sqrt(np.maximum(r2 ** 2 - (xs - c2[0]) ** 2, 0))
    top = np.maximum(c1[1] - h1, c2[1] - h2)
    bot = np.minimum(c1[1] + h1, c2[1] + h2)
    keep = top <= bot
    df = pd.DataFrame({"x": xs[keep], "y": top[keep], "y2": bot[keep]})
    p.layers.append(alt.Chart(df).mark_area(color="#b79a6b", orient="vertical", opacity=1).encode(
        x=p.X(), y=p.Y(), y2=alt.Y2("y2")))


venn(F, (1408, 1752.5), 98, (1515, 1749), 36.5)
venn(F, (1407, 1935), 70.5, (1489, 1945), 58.5)


def arrow(p, shaft, base, tip, col):
    p.layers.append(alt.Chart(pd.DataFrame({"x": [1733], "x2": [1766], "y": [shaft], "y2": [base]})).mark_rect(
        color=col).encode(x=p.X(), x2=alt.X2("x2"), y=p.Y(), y2=alt.Y2("y2")))
    p.layers.append(alt.Chart(pd.DataFrame({"x": [1717, 1749.5, 1782], "y": [base] * 3, "y2": [base, tip, base]})
                              ).mark_area(color=col, orient="vertical").encode(x=p.X(), y=p.Y(), y2=alt.Y2("y2")))


arrow(F, 1686, 1736, 1768, "#111111")
arrow(F, 1969, 1919, 1887, "#e60012")
F.t(1062, 1660, "f", 24, bold=True)
for s, a, b in [("48", 1410, 1747), ("3", 1490, 1747), ("3", 1522, 1747), ("18", 1403, 1938), ("7", 1454, 1937),
                ("12", 1505, 1936)]:
    F.t(a, b, s, 25, "center")
F.rich(1137, 1670, [("Single-", "")] + NL, 27)
F.t(1208, 1703, "vs.", 27, "center")
F.t(1139, 1737, "Single-WT", 27)
F.t(1569, 1672, "Co-WT", 27)
F.t(1616, 1703, "vs.", 27, "center")
F.t(1569, 1732, "Single-WT", 27)

# ---- panel h
h_blue = [("Bifidobacterium gallinarum| Ch206-5", 482, 110), ("Bifidobacterium saeculare| RA161", 478, 162),
          ("Bifidobacterium breve| DSM 20213", 487, 214), ("Bifidobacterium gallicum| P6", 558, 267),
          ("Bifidobacterium animalis| JCM 1190", 517, 319), ("Bifidobacterium animalis subsp. lactis| YIT 4121", 519, 372),
          ("Bifidobacterium pseudolongum| PNC-2-9G", 521, 424),
          ("Bifidobacterium pseudolongum subsp. globosum| RU 224", 528, 477)]
h_red = [("NjM1 16S rRNA gene copy 2", 527, 530), ("NjM1 16S rRNA gene copy 3", 527, 582),
         ("NjM1 16S rRNA gene copy 1", 527, 635), ("NjM1 16S rRNA gene copy 4", 523, 687)]
h_black = [("Citricoccus zhacaiensis| DSM 23847", 443, 739), ("Nesterenkonia lutea| DSM 15666", 481, 792),
           ("Angustibacter aerolatus| KACC 15527", 517, 844), ("Pseudactinotalea suaedae| DSM 28005", 557, 897),
           ("Xylanibacterium ulmi| JCM 18090", 505, 948), ("Luteimicrobium xylanilyticum| JCM 18090", 510, 1001),
           ("Cellulosimicrobium terreum| DSM 18665", 504, 1053), ("Oerskovia jenensis| DSM 46000", 517, 1105)]
h_boot = [("100", 440, 118), ("100", 345, 205), ("42", 358, 350), ("44", 423, 290), ("100", 461, 390), ("70", 403, 441),
          ("100", 470, 533), ("98", 481, 598), ("91", 485, 678), ("99", 320, 748), ("93", 364, 852), ("99", 305, 973),
          ("76", 356, 1038), ("48", 366, 1083), ("59", 387, 1115)]
h_tree = [(83, 235, 83, 860), (83, 235, 372, 235), (83, 860, 277, 860), (372, 148, 372, 320), (372, 148, 467, 148),
          (467, 122, 467, 178), (375, 228, 475, 228), (378, 228, 378, 410), (378, 410, 423, 410), (423, 320, 423, 503),
          (423, 320, 443, 320), (443, 283, 443, 358), (443, 283, 547, 283), (443, 358, 487, 358), (487, 332, 487, 384),
          (487, 332, 505, 332), (487, 384, 507, 384), (423, 503, 497, 503), (497, 437, 497, 568), (497, 437, 509, 437),
          (497, 568, 507, 568), (507, 491, 507, 650), (507, 491, 516, 491), (513, 540, 513, 703), (507, 650, 513, 650),
          (277, 780, 277, 945), (277, 780, 346, 780), (346, 752, 346, 805), (346, 752, 430, 752), (346, 805, 468, 805),
          (277, 945, 325, 945), (325, 882, 325, 1007), (325, 882, 384, 882), (384, 857, 384, 910), (384, 857, 505, 857),
          (384, 910, 545, 910), (325, 1007, 375, 1007), (375, 962, 375, 1050), (375, 962, 495, 962),
          (375, 1050, 385, 1050), (385, 1014, 385, 1093), (385, 1014, 497, 1014), (385, 1093, 407, 1093),
          (407, 1067, 407, 1118), (407, 1067, 493, 1067), (407, 1118, 505, 1118)]
H = P(1060, 2010, RIGHT, BOTTOM)
hx = lambda z: 1060 + z / 1.587
hy = lambda z: 2010 + z / 3.08
for a, b, c_, d_ in h_tree:
    H.seg(hx(a), hy(b), hx(c_), hy(d_), "#333333", 1.7)
for a, b, c_, d_ in [(83, 128, 178, 128), (83, 118, 83, 138), (178, 118, 178, 138)]:
    H.seg(hx(a), hy(b), hx(c_), hy(d_), "#333333", 1.5)
H.t(hx(128), hy(175), "0.020", 21, "center")
H.t(1062, 2044, "h", 24, bold=True)
for s, a, b in h_boot:
    H.t(hx(a), hy(b), s, 14, "center")
for name, a, b in h_blue:
    x_, y_ = name.split("|")
    H.rich(hx(a), hy(b), [(x_, "i"), (y_, "")], 21, color="#2255a4")
for name, a, b in h_red:
    H.t(hx(a), hy(b), name, 21, color="#e1141f")
for name, a, b in h_black:
    x_, y_ = name.split("|")
    H.rich(hx(a), hy(b), [(x_, "i"), (y_, "")], 21)

row1 = alt.hconcat(A1.finish(), A2.finish(), B1.finish(), B2.finish(), spacing=0, bounds="flush")
left = alt.vconcat(D.finish(), G.finish(), spacing=0)
right = alt.vconcat(C.finish(), E.finish(), F.finish(), H.finish(), spacing=0)
row2 = alt.hconcat(left, right, spacing=0)
chart = alt.vconcat(row1, row2, spacing=0).properties(
    padding={"top": -2, "left": 0, "right": 0, "bottom": 0}, background="white").configure_view(stroke=None)
chart.save("out.html", embed_options={"renderer": "svg", "actions": False})
